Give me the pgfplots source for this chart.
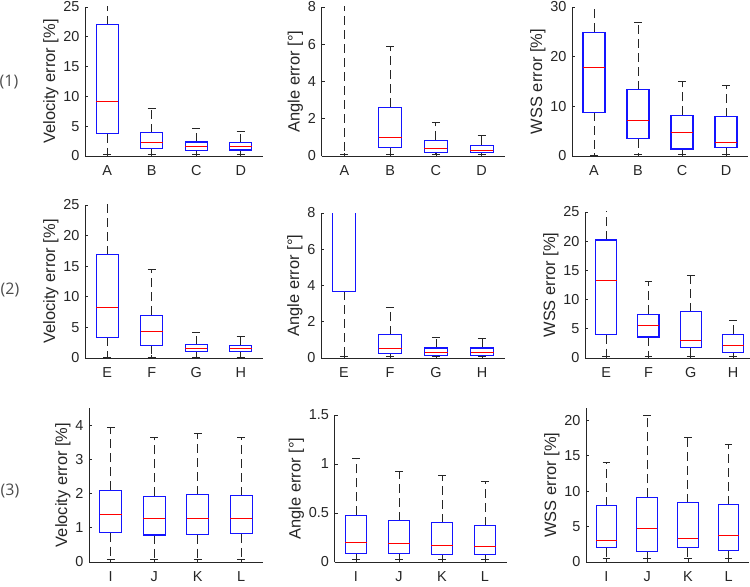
\documentclass[border=0pt]{standalone}
\usepackage{pgfplots}
\pgfplotsset{compat=1.18}
\usepgfplotslibrary{statistics}
\usepackage{fontspec}
\setmainfont{Liberation Sans}
\newfontfamily\rowfont{Open Sans}
\definecolor{axgray}{gray}{0.15}
\definecolor{boxblue}{RGB}{20,20,255}
\newcommand{\bx}[6]{\addplot[boxplot prepared={draw position=#1, lower whisker=#2, lower quartile=#3, median=#4, upper quartile=#5, upper whisker=#6}] coordinates {};}
\pgfplotsset{
  myax/.style={
    scale only axis,
    axis x line*=bottom, axis y line*=left,
    axis line style={axgray, line width=0.8bp},
    tick style={axgray, line width=0.6bp},
    tick align=inside,
    major tick length=3bp,
    xtick={1,2,3,4},
    xmin=0.5, xmax=4.5, ymin=0,
    tick label style={font=\fontsize{14.5}{17}\selectfont, text=axgray},
    label style={font=\fontsize{16.5}{19}\selectfont, text=axgray},
    /pgf/number format/assume math mode=true,
    xticklabel style={yshift=-6bp},
    yticklabel style={xshift=-2bp},
    ylabel style={yshift=-2bp},
    boxplot/draw direction=y,
    boxplot/box extend=0.5,
    boxplot/whisker extend=0.18,
    boxplot/draw/box/.code={\draw[boxblue, line width=1.1bp] (boxplot box cs:\pgfplotsboxplotvalue{lower quartile},0) rectangle (boxplot box cs:\pgfplotsboxplotvalue{upper quartile},1);},
    boxplot/draw/median/.code={\draw[red, line width=1bp] (boxplot box cs:\pgfplotsboxplotvalue{median},0) -- (boxplot box cs:\pgfplotsboxplotvalue{median},1);},
    boxplot/draw/lower whisker/.code={%
      \draw[axgray, line width=0.8bp, dash pattern=on 9bp off 5bp]
        (boxplot box cs:\pgfplotsboxplotvalue{lower quartile},0.5) -- (boxplot box cs:\pgfplotsboxplotvalue{lower whisker},0.5);
      \draw[axgray, line width=0.8bp]
        (boxplot whisker cs:\pgfplotsboxplotvalue{lower whisker},0) -- (boxplot whisker cs:\pgfplotsboxplotvalue{lower whisker},1);},
    boxplot/draw/upper whisker/.code={%
      \draw[axgray, line width=0.8bp, dash pattern=on 9bp off 5bp]
        (boxplot box cs:\pgfplotsboxplotvalue{upper quartile},0.5) -- (boxplot box cs:\pgfplotsboxplotvalue{upper whisker},0.5);
      \draw[axgray, line width=0.8bp]
        (boxplot whisker cs:\pgfplotsboxplotvalue{upper whisker},0) -- (boxplot whisker cs:\pgfplotsboxplotvalue{upper whisker},1);},
  },
}
\begin{document}
\begin{tikzpicture}
\path[use as bounding box] (0,0) rectangle (750bp,587bp);
% row labels
\node[font=\rowfont\fontsize{16}{19}\selectfont, text=black!70] at (9bp,505bp) {(1)};
\node[font=\rowfont\fontsize{16}{19}\selectfont, text=black!70] at (10bp,297bp) {(2)};
\node[font=\rowfont\fontsize{16}{19}\selectfont, text=black!70] at (10bp,96bp) {(3)};

% ===== Row 1 =====
\begin{axis}[myax, at={(85bp,431bp)}, anchor=south west, width=178bp, height=149bp,
  ymax=25, ytick={0,5,...,25}, xticklabels={A,B,C,D}, ylabel={Velocity error [\%]}]
\bx{1}{0.2}{3.7}{9.1}{22.0}{30}
\bx{2}{0.2}{1.2}{2.2}{3.9}{8.0}
\bx{3}{0.2}{0.9}{1.6}{2.35}{4.6}
\bx{4}{0.2}{1.0}{1.6}{2.2}{4.1}
\end{axis}
\begin{axis}[myax, at={(321.5bp,431bp)}, anchor=south west, width=183bp, height=149bp,
  ymax=8, ytick={0,2,...,8}, xticklabels={A,B,C,D}, ylabel={Angle error [°]}]
\bx{1}{0.1}{9}{12}{15}{20}
\bx{2}{0.1}{0.45}{1.0}{2.62}{5.88}
\bx{3}{0.1}{0.2}{0.39}{0.84}{1.8}
\bx{4}{0.1}{0.18}{0.3}{0.57}{1.13}
\end{axis}
\begin{axis}[myax, at={(572bp,431bp)}, anchor=south west, width=176bp, height=149bp,
  ymax=30, ytick={0,10,20,30}, xticklabels={A,B,C,D}, ylabel={WSS error [\%]}]
\bx{1}{0.2}{8.8}{17.8}{24.9}{35}
\bx{2}{0.3}{3.5}{7.1}{13.3}{26.9}
\bx{3}{0.3}{1.4}{4.8}{8.2}{15.1}
\bx{4}{0.3}{1.7}{2.8}{7.9}{14.2}
\end{axis}

% ===== Row 2 =====
\begin{axis}[myax, at={(85bp,229bp)}, anchor=south west, width=178bp, height=153bp,
  ymax=25, ytick={0,5,...,25}, xticklabels={E,F,G,H}, ylabel={Velocity error [\%]}]
\bx{1}{0.1}{3.4}{8.3}{16.9}{30}
\bx{2}{0.1}{2.1}{4.4}{7.0}{14.5}
\bx{3}{0.1}{1.0}{1.5}{2.2}{4.2}
\bx{4}{0.1}{1.0}{1.5}{2.1}{3.5}
\end{axis}
\begin{axis}[myax, at={(321bp,229bp)}, anchor=south west, width=184bp, height=145bp,
  ymax=8, ytick={0,2,...,8}, xticklabels={E,F,G,H}, ylabel={Angle error [°]}]
\bx{1}{0.1}{3.68}{10}{14}{20}
\bx{2}{0.1}{0.26}{0.53}{1.28}{2.78}
\bx{3}{0.08}{0.16}{0.29}{0.55}{1.13}
\bx{4}{0.08}{0.16}{0.29}{0.55}{1.1}
\end{axis}
\begin{axis}[myax, at={(585bp,229bp)}, anchor=south west, width=165bp, height=146bp, xmax=4.4,
  ymax=25, ytick={0,5,...,25}, xticklabels={E,F,G,H}, ylabel={WSS error [\%]}]
\bx{1}{0.3}{4.0}{13.2}{20.2}{30}
\bx{2}{0.3}{3.6}{5.5}{7.5}{13.2}
\bx{3}{0.3}{1.76}{2.95}{7.9}{14.1}
\bx{4}{0.3}{1.0}{2.1}{4.1}{6.5}
\end{axis}

% ===== Row 3 =====
\begin{axis}[myax, at={(89bp,25bp)}, anchor=south west, width=174bp, height=154bp,
  ymax=4.5, ytick={0,1,2,3,4}, xticklabels={I,J,K,L}, ylabel={Velocity error [\%]}]
\bx{1}{0.07}{0.86}{1.4}{2.1}{3.92}
\bx{2}{0.07}{0.79}{1.27}{1.92}{3.63}
\bx{3}{0.07}{0.8}{1.26}{1.96}{3.75}
\bx{4}{0.07}{0.82}{1.28}{1.94}{3.63}
\end{axis}
\begin{axis}[myax, at={(334.5bp,25bp)}, anchor=south west, width=172bp, height=147bp,
  ymax=1.5, ytick={0,0.5,1,1.5}, xticklabels={I,J,K,L}, ylabel={Angle error [°]}]
\bx{1}{0.025}{0.09}{0.2}{0.475}{1.06}
\bx{2}{0.025}{0.085}{0.187}{0.42}{0.92}
\bx{3}{0.025}{0.078}{0.17}{0.40}{0.88}
\bx{4}{0.025}{0.078}{0.163}{0.37}{0.82}
\end{axis}
\begin{axis}[myax, at={(586bp,25bp)}, anchor=south west, width=163bp, height=154bp,
  ymax=21.7, ytick={0,5,...,20}, xticklabels={I,J,K,L}, ylabel={WSS error [\%]}]
\bx{1}{0.47}{1.98}{3.06}{7.9}{14.0}
\bx{2}{0.47}{1.5}{4.75}{9.1}{20.7}
\bx{3}{0.47}{1.98}{3.3}{8.33}{17.5}
\bx{4}{0.47}{1.65}{3.67}{8.1}{16.6}
\end{axis}
\end{tikzpicture}
\end{document}
